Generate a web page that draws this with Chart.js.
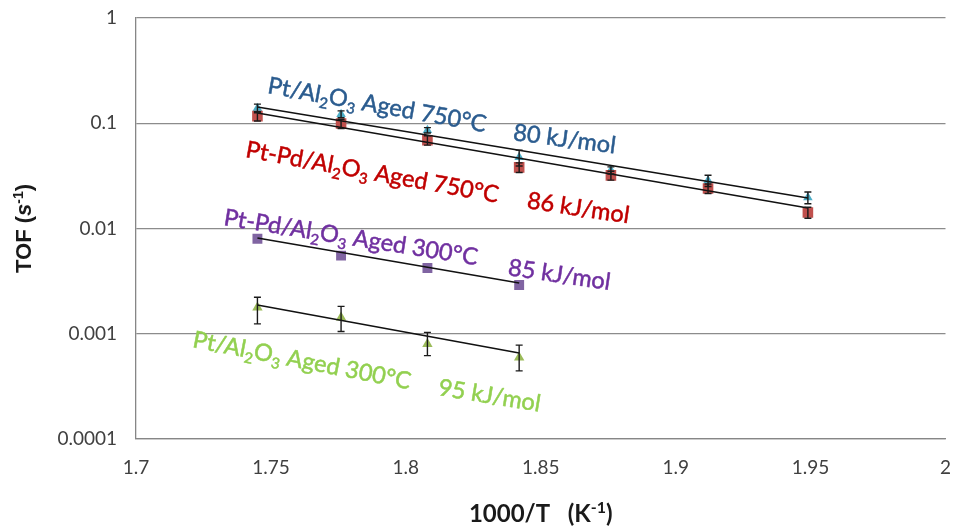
<!DOCTYPE html>
<html>
<head>
<meta charset="utf-8">
<script src="https://cdn.jsdelivr.net/npm/chart.js@4"></script>
<style>
  html, body { margin: 0; padding: 0; background: #ffffff; }
  #wrap { width: 953px; height: 527px; }
</style>
</head>
<body>
<div id="wrap"><canvas id="c" width="953" height="527"></canvas></div>
<script>
// ---- data ----
const invT7 = [1.745, 1.776, 1.808, 1.842, 1.876, 1.912, 1.949];
const invT4 = [1.745, 1.776, 1.808, 1.842];

const ptAged750 = [0.139, 0.122, 0.0858, 0.0474, 0.0357, 0.0286, 0.0197];
const ptAged750ErrHigh = [0.152, 0.131, 0.0909, 0.0556, 0.0385, 0.0321, 0.0222];
const ptAged750ErrLow = [0.126, 0.113, 0.0807, 0.0392, 0.0329, 0.0251, 0.0172];

const ptpdAged750 = [0.117, 0.0993, 0.0689, 0.0381, 0.0320, 0.0240, 0.0142];
const ptpdAged750ErrHigh = [0.129, 0.109, 0.076, 0.042, 0.035, 0.0265, 0.0159];
const ptpdAged750ErrLow = [0.105, 0.089, 0.062, 0.034, 0.0288, 0.0215, 0.0125];

const ptpdAged300 = [0.00798, 0.00553, 0.00422, 0.00291];

const ptAged300 = [0.00178, 0.00143, 0.000798, 0.000595];
const ptAged300ErrHigh = [0.00222, 0.00182, 0.00103, 0.00078];
const ptAged300ErrLow = [0.00124, 0.00105, 0.00062, 0.000444];

// trend line end values (x from first to last point)
const trendPt750 = [0.1426, 0.0195];
const trendPtPd750 = [0.125, 0.01566];
const trendPtPd300 = [0.00813, 0.00303];
const trendPt300 = [0.001876, 0.000656];

const xTickValues = [1.7, 1.75, 1.8, 1.85, 1.9, 1.95, 2];
const yTickValues = [0.0001, 0.001, 0.01, 0.1, 1];

const seriesLabels = ['Pt/Al_2O_3 Aged 750°C', 'Pt-Pd/Al_2O_3 Aged 750°C', 'Pt-Pd/Al_2O_3 Aged 300°C', 'Pt/Al_2O_3 Aged 300°C'];
const energyLabels = ['80 kJ/mol', '86 kJ/mol', '85 kJ/mol', '95 kJ/mol'];

// ---- annotation placement (data coordinates, baseline start) ----
const annotations = [
  { text: seriesLabels[0], x: 1.7485, y: 0.1938, angle: 10.2, color: '#2B5C8F' },
  { text: energyLabels[0], x: 1.8395, y: 0.0693, angle: 7.5, color: '#2B5C8F' },
  { text: seriesLabels[1], x: 1.7403, y: 0.0478, angle: 10.3, color: '#C00000' },
  { text: energyLabels[1], x: 1.8446, y: 0.01566, angle: 8.6, color: '#C00000' },
  { text: seriesLabels[2], x: 1.7322, y: 0.0108, angle: 9.0, color: '#7030A0' },
  { text: energyLabels[2], x: 1.8376, y: 0.003616, angle: 8.4, color: '#7030A0' },
  { text: seriesLabels[3], x: 1.7207, y: 0.000748, angle: 11.0, color: '#92D050' },
  { text: energyLabels[3], x: 1.8117, y: 0.000262, angle: 9.3, color: '#92D050' }
];

function parseRich(s) {
  const out = []; let buf = ''; let i = 0;
  while (i < s.length) {
    const c = s[i];
    if (c === '_') { if (buf) { out.push({ t: buf, k: 0 }); buf = ''; } out.push({ t: s[i + 1], k: -1 }); i += 2; }
    else if (c === '^' && s[i + 1] === '{') {
      if (buf) { out.push({ t: buf, k: 0 }); buf = ''; }
      const j = s.indexOf('}', i); out.push({ t: s.slice(i + 2, j), k: 1 }); i = j + 1;
    } else { buf += c; i++; }
  }
  if (buf) out.push({ t: buf, k: 0 });
  return out;
}

function fontFor(p, size, family, weight) {
  const sz = p.k === 0 ? size : Math.round(size * 0.65);
  const style = p.italic ? 'italic ' : '';
  return style + (weight || 'normal') + ' ' + sz + 'px ' + family;
}

function drawRich(ctx, parts, x, y, angle, size, family, weight, color, align, stroke) {
  ctx.save();
  ctx.translate(x, y);
  ctx.rotate(angle * Math.PI / 180);
  ctx.fillStyle = color;
  ctx.strokeStyle = color;
  ctx.lineWidth = stroke || 0;
  ctx.textBaseline = 'alphabetic';
  ctx.textAlign = 'left';
  let total = 0;
  parts.forEach(p => { ctx.font = fontFor(p, size, family, weight); total += ctx.measureText(p.t).width; });
  let cx = align === 'center' ? -total / 2 : 0;
  parts.forEach(p => {
    ctx.font = fontFor(p, size, family, weight);
    const dy = p.k === -1 ? size * 0.22 : (p.k === 1 ? -size * 0.38 : 0);
    ctx.fillText(p.t, cx, dy);
    if (stroke) ctx.strokeText(p.t, cx, dy);
    cx += ctx.measureText(p.t).width;
  });
  ctx.restore();
}

const errorSets = [
  { x: invT7, hi: ptAged750ErrHigh, lo: ptAged750ErrLow },
  { x: invT7, hi: ptpdAged750ErrHigh, lo: ptpdAged750ErrLow },
  { x: invT4, hi: ptAged300ErrHigh, lo: ptAged300ErrLow }
];

const overlayPlugin = {
  id: 'overlay',
  afterDatasetsDraw(chart) {
    const ctx = chart.ctx;
    const xs = chart.scales.x, ys = chart.scales.y;
    ctx.save();
    ctx.strokeStyle = '#1a1a1a';
    ctx.lineWidth = 1.4;
    errorSets.forEach(set => {
      set.x.forEach((xv, i) => {
        const px = xs.getPixelForValue(xv);
        const pt = ys.getPixelForValue(set.hi[i]);
        const pb = ys.getPixelForValue(set.lo[i]);
        ctx.beginPath();
        ctx.moveTo(px, pt); ctx.lineTo(px, pb);
        ctx.moveTo(px - 3.5, pt); ctx.lineTo(px + 3.5, pt);
        ctx.moveTo(px - 3.5, pb); ctx.lineTo(px + 3.5, pb);
        ctx.stroke();
      });
    });
    ctx.restore();
  },
  afterDraw(chart) {
    const ctx = chart.ctx;
    const xs = chart.scales.x, ys = chart.scales.y;
    annotations.forEach(a => {
      drawRich(ctx, parseRich(a.text), xs.getPixelForValue(a.x), ys.getPixelForValue(a.y),
        a.angle, 23.5, 'Lato, "Open Sans", sans-serif', 'normal', a.color, 'left', 0.5);
    });
    // axis titles
    const area = chart.chartArea;
    drawRich(ctx, parseRich('1000/T   (K^{-1})'), (area.left + area.right) / 2, 522, 0,
      24, 'Lato, sans-serif', 'bold', '#1a1a1a', 'center');
    const yParts = [{ t: 'TOF (', k: 0 }, { t: 's', k: 0, italic: true }, { t: '-1', k: 1 }, { t: ')', k: 0 }];
    drawRich(ctx, yParts, 31, (area.top + area.bottom) / 2, -90, 22,
      '"Liberation Sans", Arial, sans-serif', 'bold', '#1a1a1a', 'center');
  }
};

const trend = (xArr, vals) => [{ x: xArr[0], y: vals[0] }, { x: xArr[xArr.length - 1], y: vals[1] }];
const pts = (xArr, yArr) => xArr.map((x, i) => ({ x, y: yArr[i] }));

const lineStyle = { type: 'line', showLine: true, borderColor: '#111111', borderWidth: 1.6, pointRadius: 0, fill: false, order: 0 };

new Chart(document.getElementById('c'), {
  type: 'scatter',
  data: {
    datasets: [
      { label: 'Pt/Al2O3 Aged 750°C', data: pts(invT7, ptAged750), pointStyle: 'triangle', pointRadius: 5.5,
        backgroundColor: '#4BACC6', borderColor: '#4BACC6', borderWidth: 0, order: 2 },
      { label: 'Pt-Pd/Al2O3 Aged 750°C', data: pts(invT7, ptpdAged750), pointStyle: 'rect', pointRadius: 7.5,
        backgroundColor: '#C0504D', borderColor: '#C0504D', borderWidth: 0, order: 1 },
      { label: 'Pt-Pd/Al2O3 Aged 300°C', data: pts(invT4, ptpdAged300), pointStyle: 'rect', pointRadius: 7,
        backgroundColor: '#8064A2', borderColor: '#8064A2', borderWidth: 0, order: 1 },
      { label: 'Pt/Al2O3 Aged 300°C', data: pts(invT4, ptAged300), pointStyle: 'triangle', pointRadius: 6,
        backgroundColor: '#9BBB59', borderColor: '#9BBB59', borderWidth: 0, order: 1 },
      Object.assign({ label: 'trend1', data: trend(invT7, trendPt750) }, lineStyle),
      Object.assign({ label: 'trend2', data: trend(invT7, trendPtPd750) }, lineStyle),
      Object.assign({ label: 'trend3', data: trend(invT4, trendPtPd300) }, lineStyle),
      Object.assign({ label: 'trend4', data: trend(invT4, trendPt300) }, lineStyle)
    ]
  },
  options: {
    responsive: false,
    animation: false,
    devicePixelRatio: 1,
    layout: { padding: { top: 18, right: 6, left: 0, bottom: 0 } },
    plugins: { legend: { display: false }, tooltip: { enabled: false } },
    scales: {
      x: {
        type: 'linear', min: 1.7, max: 2,
        afterBuildTicks: s => { s.ticks = xTickValues.map(v => ({ value: v })); },
        afterFit: s => { s.height = 88; s.paddingLeft = 0; s.paddingRight = 0; },
        ticks: { callback: v => String(v), font: { family: 'Lato', size: 19 }, color: '#404040', padding: 17, maxRotation: 0 },
        grid: { display: false, drawTicks: false },
        border: { display: true, color: '#868686', width: 1.3 }
      },
      y: {
        type: 'logarithmic', min: 0.0001, max: 1,
        afterBuildTicks: s => { s.ticks = yTickValues.map(v => ({ value: v })); },
        afterFit: s => { s.width = 136; s.paddingTop = 0; s.paddingBottom = 0; },
        ticks: { callback: v => String(v), font: { family: 'Lato', size: 19 }, color: '#404040', padding: 19 },
        grid: { display: true, color: '#8c8c8c', lineWidth: 1.3, drawTicks: false },
        border: { display: true, color: '#868686', width: 1.3 }
      }
    }
  },
  plugins: [overlayPlugin]
});
</script>
</body>
</html>
